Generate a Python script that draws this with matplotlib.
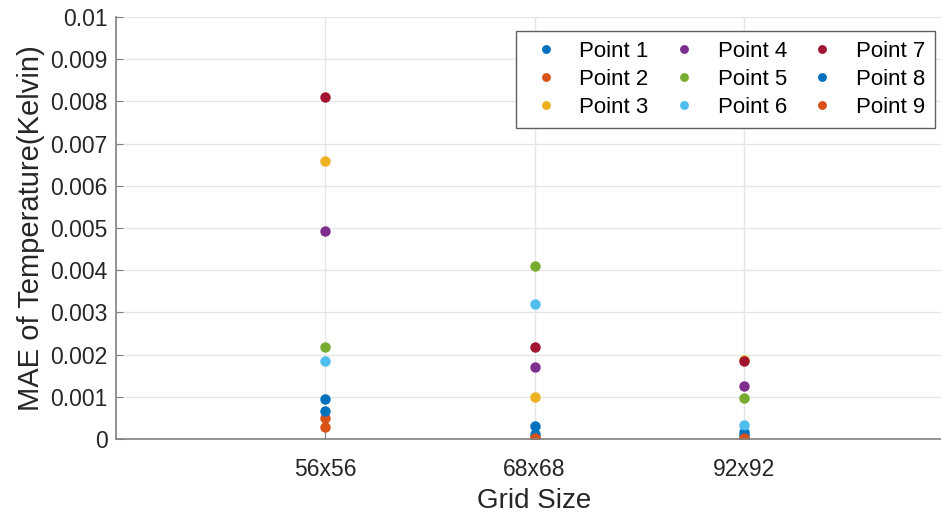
import matplotlib.pyplot as plt

plt.rcParams['font.family'] = ['Liberation Sans', 'DejaVu Sans']

grid_sizes = ["56x56", "68x68", "92x92"]
point_names = ["Point %d" % i for i in range(1, 10)]

# MAE per point, one value per grid size
mae = [
    [0.00095, 0.00030, 0.00017],  # Point 1
    [0.00050, 0.00005, 0.00003],  # Point 2
    [0.00659, 0.00100, 0.00188],  # Point 3
    [0.00493, 0.00171, 0.00126],  # Point 4
    [0.00218, 0.00410, 0.00097],  # Point 5
    [0.00185, 0.00320, 0.00034],  # Point 6
    [0.00810, 0.00219, 0.00184],  # Point 7
    [0.00066, 0.00012, 0.00010],  # Point 8
    [0.00029, 0.00003, 0.00002],  # Point 9
]

colors = ["#0072BD", "#D95319", "#EDB120", "#7E2F8E", "#77AC30",
          "#4DBEEE", "#A2142F", "#0072BD", "#D95319"]

fig = plt.figure(figsize=(9.41, 5.16), dpi=100)
ax = fig.add_axes([0.1233, 0.1492, 0.8895, 0.8178])

xpos = list(range(1, len(grid_sizes) + 1))
for name, vals, c in zip(point_names, mae, colors):
    ax.plot(xpos, vals, 'o', color=c, markersize=7.5, label=name,
            markeredgewidth=0)

ax.set_xlim(0, 4)
ax.set_ylim(0, 0.01)
ax.set_xticks(xpos)
ax.set_xticklabels(grid_sizes)
ax.set_yticks([i * 0.001 for i in range(11)])
ax.set_yticklabels(["0"] + ["%.3f" % (i * 0.001) for i in range(1, 10)] + ["0.01"])
ax.tick_params(labelsize=16.5, direction='in', color='#808080', length=5,
               labelcolor='#262626')
ax.tick_params(axis='x', pad=14)
ax.tick_params(axis='y', pad=6)
ax.grid(True, color='#e6e6e6', linewidth=1)
ax.set_axisbelow(True)
for s in ['top', 'right']:
    ax.spines[s].set_visible(False)
for s in ['left', 'bottom']:
    ax.spines[s].set_color('#808080')
    ax.spines[s].set_linewidth(1.2)

ax.set_xlabel("Grid Size", fontsize=20, color='#262626', labelpad=5)
ax.set_ylabel("MAE of Temperature(Kelvin)", fontsize=21, color='#262626', labelpad=4)

leg = ax.legend(ncol=3, loc='upper right', bbox_to_anchor=(0.9936, 0.940),
                bbox_transform=fig.transFigure, borderaxespad=0, fontsize=16,
                fancybox=False, edgecolor='#606060', framealpha=1,
                borderpad=0.45, handletextpad=0.6, columnspacing=0.7,
                labelspacing=0.32, handlelength=1.8, markerscale=0.85)
leg.get_frame().set_linewidth(1.0)

fig.savefig("out.png", dpi=100)
